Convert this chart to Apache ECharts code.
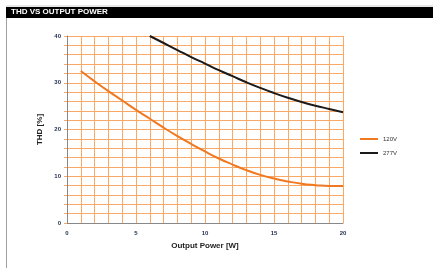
<!DOCTYPE html>
<html>
<head>
<meta charset="utf-8">
<script src="https://cdn.jsdelivr.net/npm/echarts@6/dist/echarts.min.js"></script>
<style>
  html, body { margin: 0; padding: 0; background: #fff; }
  #myChart { width: 433px; height: 268px; }
</style>
</head>
<body>
<div id="myChart"></div>
<script>
// 120V curve
var power120 = [1, 2, 3, 4, 5, 6, 7, 8, 9, 10, 11, 12, 13, 14, 15, 16, 17, 18, 19, 20];
var thd120 = [32.5, 30.3, 28.2, 26.2, 24.2, 22.3, 20.4, 18.6, 16.9, 15.3, 13.8, 12.5, 11.3, 10.3, 9.5, 8.9, 8.4, 8.1, 7.9, 7.9];
// 277V curve
var power277 = [6, 7, 8, 9, 10, 11, 12, 13, 14, 15, 16, 17, 18, 19, 20];
var thd277 = [40, 38.5, 37.0, 35.5, 34.1, 32.7, 31.4, 30.1, 28.9, 27.8, 26.8, 25.9, 25.1, 24.4, 23.7];
var seriesNames = ['120V', '277V'];

function pairs(xs, ys) {
    var out = [];
    for (var i = 0; i < xs.length; i++) {
        out.push([xs[i], ys[i]]);
    }
    return out;
}

var gridOrange = '#f9a865';
var myChart = echarts.init(document.getElementById("myChart"));
var option = {
    animation: false,
    graphic: [
        { type: 'line', shape: { x1: 6, y1: 6, x2: 433, y2: 6 }, style: { stroke: '#cfcfcf', lineWidth: 1 } },
        { type: 'rect', shape: { x: 6, y: 7, width: 427, height: 11 }, style: { fill: '#000' } },
        { type: 'text', left: 11, top: 8, style: { text: 'THD VS OUTPUT POWER', fill: '#fff', font: 'bold 8px "Liberation Sans", Arial' } },
        { type: 'line', shape: { x1: 6.5, y1: 18, x2: 6.5, y2: 268 }, style: { stroke: '#a0a0a0', lineWidth: 1 } }
    ],
    legend: {
        show: true,
        orient: 'vertical',
        left: 355,
        top: 131,
        itemWidth: 18,
        itemHeight: 2,
        itemGap: 8,
        icon: 'rect',
        textStyle: { fontSize: 6, color: '#333', fontFamily: 'Liberation Sans' },
        data: seriesNames
    },
    grid: {
        top: 36,
        left: 67,
        right: 90,
        bottom: 45
    },
    xAxis: {
        type: 'value',
        min: 0,
        max: 20,
        interval: 1,
        name: 'Output Power [W]',
        nameLocation: 'middle',
        nameGap: 19,
        nameTextStyle: { fontSize: 8, fontWeight: 'bold', color: '#222', fontFamily: 'Liberation Sans' },
        axisLine: { show: true, lineStyle: { color: '#888' } },
        axisTick: { show: false },
        axisLabel: {
            fontSize: 6, fontWeight: 'bold', color: '#1c2a4a', margin: 7,
            formatter: function (v) { return v % 5 === 0 ? String(v) : ''; }
        },
        splitLine: { show: true, lineStyle: { color: gridOrange, width: 1 } }
    },
    yAxis: {
        type: 'value',
        min: 0,
        max: 40,
        interval: 2,
        name: 'THD [%]',
        nameLocation: 'middle',
        nameGap: 20,
        nameRotate: 90,
        nameTextStyle: { fontSize: 8, fontWeight: 'bold', color: '#222', fontFamily: 'Liberation Sans' },
        axisLine: { show: true, lineStyle: { color: '#888' } },
        axisTick: { show: true, length: 3, lineStyle: { color: gridOrange } },
        axisLabel: {
            fontSize: 6, fontWeight: 'bold', color: '#1c2a4a', margin: 6,
            formatter: function (v) { return v % 10 === 0 ? String(v) : ''; }
        },
        splitLine: { show: true, lineStyle: { color: gridOrange, width: 1 } }
    },
    series: [
        {
            name: seriesNames[0],
            type: 'line',
            smooth: 0.5,
            showSymbol: false,
            data: pairs(power120, thd120),
            lineStyle: { color: '#f07820', width: 2 },
            itemStyle: { color: '#f07820' }
        },
        {
            name: seriesNames[1],
            type: 'line',
            smooth: 0.5,
            showSymbol: false,
            data: pairs(power277, thd277),
            lineStyle: { color: '#1a1a1a', width: 2 },
            itemStyle: { color: '#1a1a1a' }
        }
    ]
};
myChart.setOption(option);
</script>
</body>
</html>
